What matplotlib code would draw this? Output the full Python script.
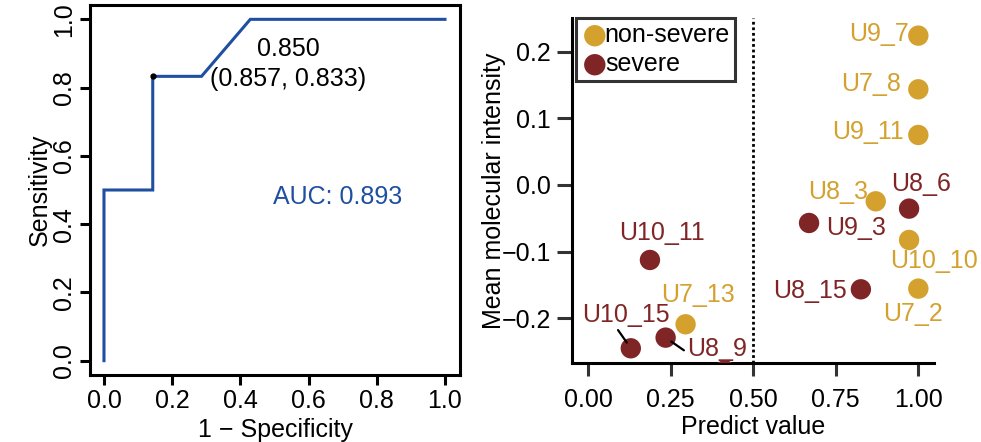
import matplotlib
matplotlib.use("Agg")
import matplotlib.pyplot as plt

plt.rcParams['font.family'] = ['Liberation Sans', 'DejaVu Sans']

# ---- ROC data ----
roc_fpr = [0.0, 0.0, 0.143, 0.143, 0.286, 0.429, 1.0]
roc_tpr = [0.0, 0.5, 0.5, 0.833, 0.833, 1.0, 1.0]
best_fpr = 0.143
best_tpr = 0.833
best_label = "0.850\n(0.857, 0.833)"
auc_label = "AUC: 0.893"
roc_ticks = [0.0, 0.2, 0.4, 0.6, 0.8, 1.0]

# ---- scatter data ----
names = ["U9_7", "U7_8", "U9_11", "U8_3", "U8_6", "U9_3", "U10_10", "U8_15",
         "U7_2", "U10_11", "U7_13", "U10_15", "U8_9", "U_hidden"]
pred = [1.0, 1.0, 1.0, 0.871, 0.972, 0.669, 0.972, 0.826,
        1.0, 0.187, 0.295, 0.129, 0.2345, 0.414]
intensity = [0.224, 0.1435, 0.075, -0.0245, -0.0355, -0.057, -0.0825, -0.1565,
             -0.1555, -0.1125, -0.209, -0.245, -0.229, -0.278]
group = ["non-severe", "non-severe", "non-severe", "non-severe", "severe", "severe",
         "non-severe", "severe", "non-severe", "severe", "non-severe", "severe",
         "severe", "severe"]
groups = ["non-severe", "severe"]
x_ticks = [0.0, 0.25, 0.5, 0.75, 1.0]
y_ticks = [-0.2, -0.1, 0.0, 0.1, 0.2]
cutoff = 0.5

colors = {"non-severe": "#D4A12F", "severe": "#802526"}
roc_color = "#1F4FA0"
FS = 18

# label offsets in pixels (dx right, dy up) from the point
label_off = {
    "U9_7": (-39, 2), "U7_8": (-47, 5), "U9_11": (-50, 3), "U8_3": (-38, 9),
    "U8_6": (12, 25), "U9_3": (47, -5), "U10_10": (25, -21), "U8_15": (-51, -2),
    "U7_2": (-5, -25), "U10_11": (12, 27), "U7_13": (12, 29),
    "U10_15": (-5, 33), "U8_9": (51, -11),
}
segments = {"U10_15": (0.38, 0.05), "U8_9": (0.0, 0.35)}

fig = plt.figure(figsize=(9.81, 4.42), dpi=100)
px = 72 / 100.0

# ---------- ROC panel ----------
ax1 = fig.add_axes([90 / 981, 1 - 375 / 442, 370 / 981, 370 / 442])
ax1.plot(roc_fpr, roc_tpr, color=roc_color, lw=2.2, solid_joinstyle='miter')
ax1.plot([best_fpr], [best_tpr], 'o', color='black', ms=3.5)
ax1.text(0.54, 0.869, best_label, ha='center', va='center', fontsize=FS,
         linespacing=1.28, color='black')
ax1.text(0.684, 0.48, auc_label, ha='center', va='center', fontsize=FS,
         color=roc_color)
ax1.set_xlim(-0.041, 1.044)
ax1.set_ylim(-0.042, 1.042)
ax1.set_xticks(roc_ticks)
ax1.set_yticks(roc_ticks)
ax1.set_xticklabels([f"{t:.1f}" for t in roc_ticks])
ax1.set_yticklabels([f"{t:.1f}" for t in roc_ticks], rotation=90, va='center')
for s in ax1.spines.values():
    s.set_linewidth(2.2)
ax1.tick_params(width=2.2, length=7, labelsize=FS, pad=3)
ax1.set_xlabel("1 \u2212 Specificity", fontsize=FS, labelpad=4)
ax1.set_ylabel("Sensitivity", fontsize=FS, labelpad=0)

# ---------- scatter panel ----------
ax2 = fig.add_axes([571.7 / 981, 1 - 363.3 / 442, 362.3 / 981, 345 / 442])
ax2.axvline(cutoff, color='black', ls=(0, (1, 1)), lw=2, zorder=1)
for g in groups:
    xs = [p for p, gg in zip(pred, group) if gg == g]
    ys = [v for v, gg in zip(intensity, group) if gg == g]
    ax2.scatter(xs, ys, s=215, color=colors[g], label=g, zorder=3,
                edgecolors='none')

for n, x, y, g in zip(names, pred, intensity, group):
    if n not in label_off:
        continue
    dx, dy = label_off[n]
    kw = {}
    if n in segments:
        kw['arrowprops'] = dict(arrowstyle='-', color='black', lw=1.6,
                                shrinkA=0, shrinkB=5,
                                relpos=segments[n])
    ax2.annotate(n, (x, y), xytext=(dx * px, dy * px), textcoords='offset points',
                 ha='center', va='center', fontsize=FS, color=colors[g],
                 zorder=4, annotation_clip=False, **kw)

ax2.set_xlim(-0.05, 1.0475)
ax2.set_ylim(-0.2675, 0.25)
ax2.set_xticks(x_ticks)
ax2.set_xticklabels([f"{t:.2f}" for t in x_ticks])
ax2.set_yticks(y_ticks)
ax2.set_yticklabels([f"{t:.1f}".replace("-", "\u2212") for t in y_ticks])
ax2.spines['top'].set_visible(False)
ax2.spines['right'].set_visible(False)
ax2.spines['left'].set_linewidth(2.2)
ax2.spines['bottom'].set_linewidth(2.2)
ax2.tick_params(axis='y', width=2.2, length=11, color='#333333', labelsize=FS, pad=4)
ax2.tick_params(axis='x', width=2.2, length=9, color='#333333', labelsize=FS, pad=9)
ax2.set_xlabel("Predict value", fontsize=FS, labelpad=2)
ax2.set_ylabel("Mean molecular intensity", fontsize=FS, labelpad=-3)

leg = ax2.legend(loc='upper left', bbox_to_anchor=(0.012, 1.0), fontsize=FS,
                 frameon=True, fancybox=False, borderpad=0.2, handletextpad=-0.15,
                 labelspacing=0.2, handlelength=1.1, borderaxespad=0.0,
                 markerscale=1.05)
leg.get_frame().set_edgecolor('black')
leg.get_frame().set_linewidth(2.2)

fig.savefig("out.png", dpi=100)
